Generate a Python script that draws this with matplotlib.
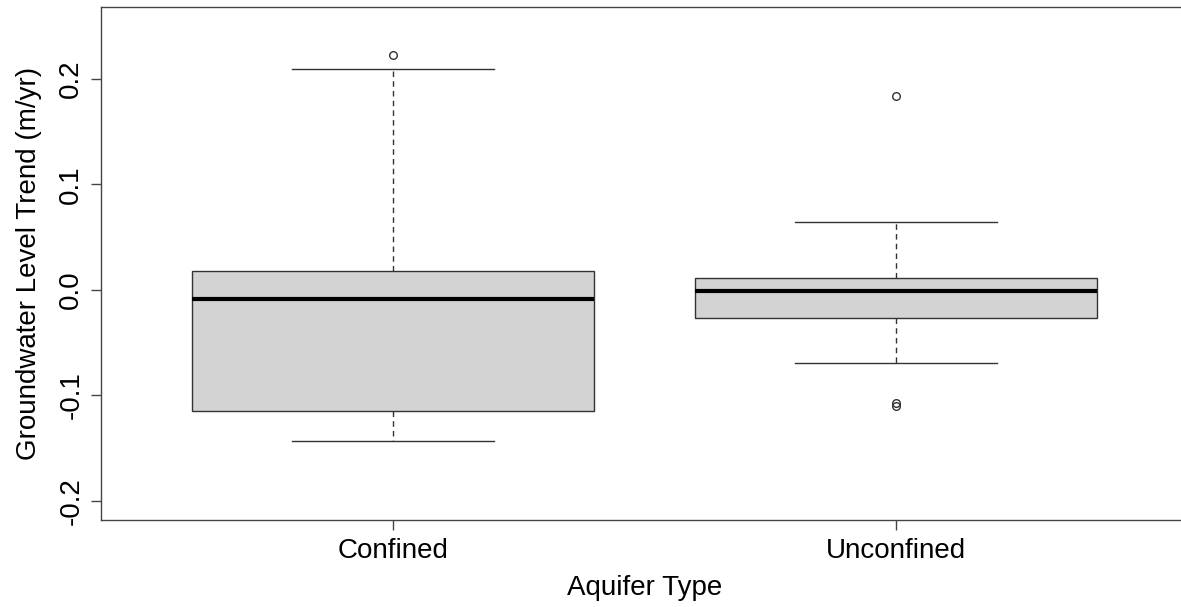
import matplotlib
matplotlib.use("Agg")
import matplotlib.pyplot as plt

categories = ["Confined", "Unconfined"]
q1 = [-0.1148, -0.0265]
med = [-0.0090, -0.0009]
q3 = [0.0181, 0.0109]
whislo = [-0.1429, -0.0692]
whishi = [0.2097, 0.0644]
fliers = [[0.2230], [0.1838, -0.1074, -0.1103]]
yticks = [-0.2, -0.1, 0.0, 0.1, 0.2]
yticklabels = ["-0.2", "-0.1", "0.0", "0.1", "0.2"]

plt.rcParams['font.family'] = ['Liberation Sans', 'DejaVu Sans']

W, H = 1181, 607
fig = plt.figure(figsize=(W / 100, H / 100), dpi=100)
left, right, top, bottom = 101, 1188, 7, 520
ax = fig.add_axes([left / W, (H - bottom) / H, (right - left) / W, (bottom - top) / H])

stats = []
for i, c in enumerate(categories):
    stats.append(dict(label=c, q1=q1[i], med=med[i], q3=q3[i],
                      whislo=whislo[i], whishi=whishi[i], fliers=fliers[i]))

ax.bxp(stats, positions=[1, 2], widths=0.8, patch_artist=True,
       boxprops=dict(facecolor="#d3d3d3", edgecolor="#333333", linewidth=1.0),
       medianprops=dict(color="black", linewidth=3.0, solid_capstyle="butt"),
       whiskerprops=dict(color="#333333", linewidth=1.0, linestyle=(0, (4, 3))),
       capprops=dict(color="#333333", linewidth=1.0),
       capwidths=0.4,
       flierprops=dict(marker="o", markersize=5.5, markerfacecolor="none",
                       markeredgecolor="#333333", markeredgewidth=1.0, linestyle="none"))

ax.set_xlim(0.42, 2.58)
ax.set_ylim(-0.218, 0.268)
ax.set_yticks(yticks)
ax.set_yticklabels(yticklabels, rotation=90, va="center")
ax.set_xticks([1, 2])
ax.set_xticklabels(categories)

for s in ax.spines.values():
    s.set_color("#444444")
    s.set_linewidth(1.0)
ax.tick_params(axis="both", length=7, width=1.0, color="#444444", labelsize=20, pad=5)
ax.tick_params(axis="x", pad=6)

ax.set_xlabel("Aquifer Type", fontsize=20, labelpad=8)
ax.set_ylabel("Groundwater Level Trend (m/yr)", fontsize=20, labelpad=12)

fig.savefig("out.png", dpi=100)
